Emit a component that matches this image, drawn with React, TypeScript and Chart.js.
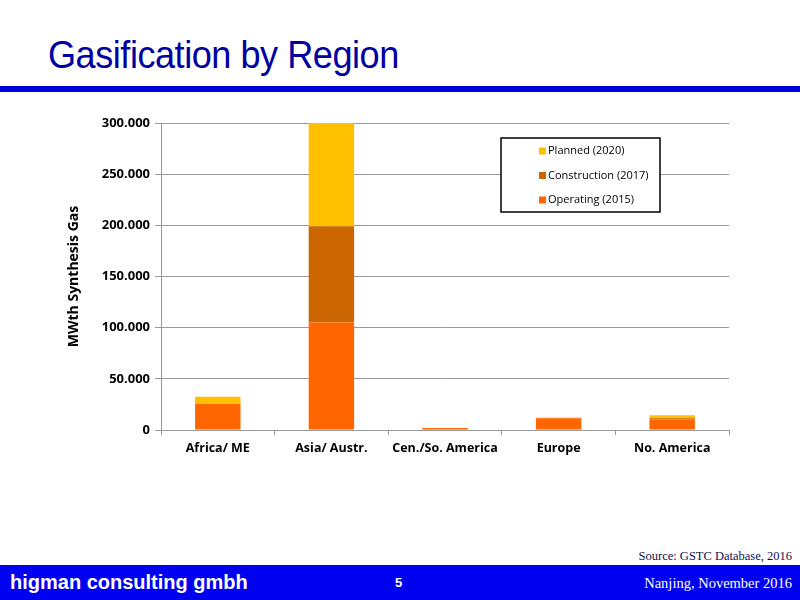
import React, { useEffect, useRef } from "react";
import { Chart, registerables } from "chart.js";

Chart.register(...registerables);

const categories = ["Africa/ ME", "Asia/ Austr.", "Cen./So. America", "Europe", "No. America"];
const operating2015 = [25500, 105000, 2000, 11500, 10500];
const construction2017 = [0, 94000, 0, 0, 1000];
const planned2020 = [7000, 101000, 0, 800, 2800];
const yTicks = [0, 50000, 100000, 150000, 200000, 250000, 300000];

const legendPlugin = {
  id: "boxLegend",
  afterDraw(chart: any) {
    const ctx = chart.ctx;
    const a = chart.chartArea;
    const x = a.left + 340;
    const y = a.top + 15;
    const w = 159;
    const h = 74;
    ctx.save();
    ctx.fillStyle = "#ffffff";
    ctx.fillRect(x, y, w, h);
    ctx.strokeStyle = "#000000";
    ctx.lineWidth = 1.5;
    ctx.strokeRect(x, y, w, h);
    const items = [...chart.data.datasets].reverse();
    ctx.font = "11px 'Open Sans', Lato, sans-serif";
    ctx.textBaseline = "middle";
    items.forEach((ds: any, i: number) => {
      const cy = y + 13 + i * 24.5;
      ctx.fillStyle = ds.backgroundColor;
      ctx.fillRect(x + 38, cy - 3.5, 7, 7);
      ctx.fillStyle = "#000000";
      ctx.fillText(ds.label, x + 47, cy);
    });
    ctx.restore();
  },
};

function fmt(v: number) {
  if (v === 0) return "0";
  const s = String(Math.round(v));
  return s.replace(/\B(?=(\d{3})+(?!\d))/g, ".");
}

export default function App() {
  const ref = useRef<HTMLCanvasElement>(null);
  useEffect(() => {
    if (!ref.current) return;
    const chart = new Chart(ref.current, {
      type: "bar",
      data: {
        labels: categories,
        datasets: [
          { label: "Operating (2015)", data: operating2015, backgroundColor: "#FF6600" },
          { label: "Construction (2017)", data: construction2017, backgroundColor: "#CC6600" },
          { label: "Planned (2020)", data: planned2020, backgroundColor: "#FFC000" },
        ],
      },
      options: {
        responsive: false,
        animation: false,
        layout: { padding: { top: 13, right: 21, left: 0, bottom: 0 } },
        datasets: { bar: { barPercentage: 0.4, categoryPercentage: 1 } },
        plugins: { legend: { display: false }, tooltip: { enabled: false } },
        scales: {
          x: {
            stacked: true,
            grid: { display: true, drawOnChartArea: false, color: "#999999", tickLength: 5, offset: true },
            border: { color: "#999999", width: 1 },
            ticks: {
              color: "#000000",
              padding: 6,
              font: { family: "'Open Sans', Lato, sans-serif", size: 12.5, weight: "bold" },
              maxRotation: 0,
            },
            afterFit: (s: any) => { s.height = 40; },
          },
          y: {
            stacked: true,
            min: 0,
            max: 300000,
            afterBuildTicks: (s: any) => { s.ticks = yTicks.map((v) => ({ value: v })); },
            grid: { color: "#999999", tickLength: 6 },
            border: { color: "#999999", width: 1 },
            ticks: {
              color: "#000000",
              padding: 5,
              font: { family: "'Open Sans', Lato, sans-serif", size: 13, weight: "bold" },
              callback: (v: any) => fmt(Number(v)),
            },
            title: {
              display: true,
              text: "MWth Synthesis Gas",
              color: "#000000",
              font: { family: "'Open Sans', Lato, sans-serif", size: 14, weight: "bold" },
              padding: { top: 6, bottom: 0 },
            },
            afterFit: (s: any) => { s.width = 101; },
          },
        },
      },
      plugins: [legendPlugin],
    });
    return () => chart.destroy();
  }, []);

  return (
    <div style={{ position: "fixed", left: 0, top: 0, width: 800, height: 600, background: "#fff", overflow: "hidden" }}>
      <div style={{ position: "absolute", left: 48, top: 34, fontFamily: "'Liberation Sans', Arial, sans-serif", fontSize: 38, color: "#0000A0", letterSpacing: -0.5, transform: "scaleX(0.95)", transformOrigin: "left" }}>
        Gasification by Region
      </div>
      <div style={{ position: "absolute", left: 0, top: 86, width: 800, height: 6, background: "#0000DD" }} />
      <canvas ref={ref} width={690} height={360} style={{ position: "absolute", left: 60, top: 110 }} />
      <div style={{ position: "absolute", right: 8, top: 549, fontFamily: "'Liberation Serif', serif", fontSize: 12.5, color: "#101050" }}>
        Source: GSTC Database, 2016
      </div>
      <div style={{ position: "absolute", left: 0, top: 565, width: 800, height: 35, background: "#0000F0" }}>
        <div style={{ position: "absolute", left: 10, top: 6, fontFamily: "'Liberation Sans', Arial, sans-serif", fontWeight: "bold", fontSize: 20, color: "#fff" }}>
          higman consulting gmbh
        </div>
        <div style={{ position: "absolute", left: 395, top: 10, fontFamily: "'Liberation Sans', Arial, sans-serif", fontWeight: "bold", fontSize: 13, color: "#fff" }}>
          5
        </div>
        <div style={{ position: "absolute", right: 8, top: 10, fontFamily: "'Liberation Serif', serif", fontSize: 14.5, color: "#fff" }}>
          Nanjing, November 2016
        </div>
      </div>
    </div>
  );
}
